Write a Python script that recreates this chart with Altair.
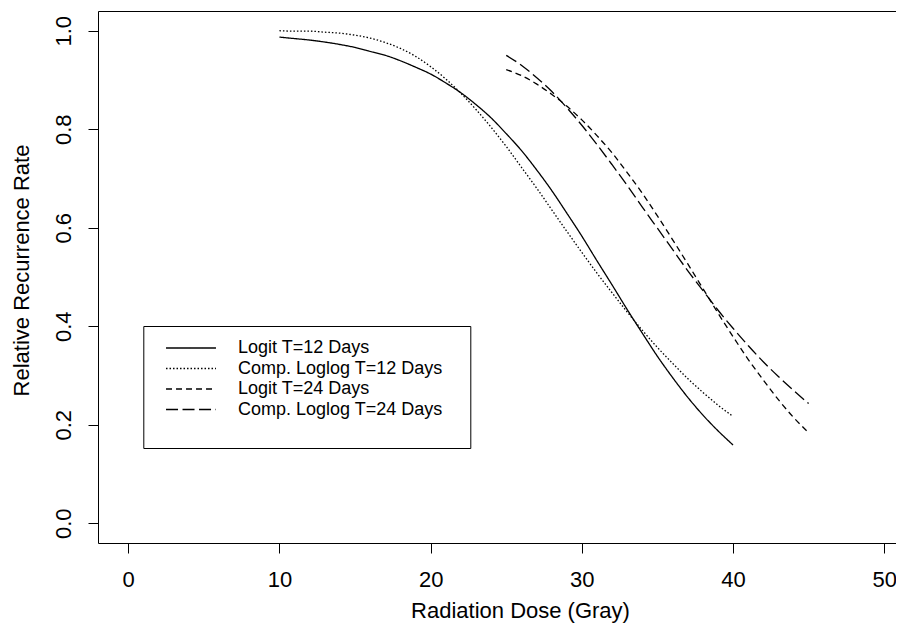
import altair as alt
import pandas as pd

# ---- data ----
series_names = ["Logit T=12 Days", "Comp. Loglog T=12 Days",
                "Logit T=24 Days", "Comp. Loglog T=24 Days"]

dose_t12 = [10, 11, 12, 13, 14, 15, 16, 17, 18, 19, 20, 21, 22, 23, 24, 25,
            26, 27, 28, 29, 30, 31, 32, 33, 34, 35, 36, 37, 38, 39, 40]
logit_t12 = [0.987, 0.984, 0.981, 0.977, 0.972, 0.966, 0.958, 0.950, 0.939,
             0.926, 0.912, 0.894, 0.874, 0.850, 0.823, 0.791, 0.757, 0.718,
             0.676, 0.630, 0.583, 0.533, 0.484, 0.434, 0.386, 0.339, 0.296,
             0.256, 0.220, 0.188, 0.159]
cll_t12 = [1.000, 0.999, 0.999, 0.997, 0.995, 0.991, 0.985, 0.976, 0.964,
           0.948, 0.927, 0.902, 0.873, 0.840, 0.804, 0.765, 0.723, 0.681,
           0.637, 0.593, 0.550, 0.508, 0.468, 0.429, 0.392, 0.357, 0.325,
           0.294, 0.266, 0.240, 0.217]

dose_t24 = [25, 26, 27, 28, 29, 30, 31, 32, 33, 34, 35, 36, 37, 38, 39, 40,
            41, 42, 43, 44, 45]
logit_t24 = [0.921, 0.909, 0.892, 0.871, 0.847, 0.819, 0.787, 0.752, 0.712,
             0.670, 0.624, 0.576, 0.527, 0.477, 0.427, 0.379, 0.333, 0.291,
             0.251, 0.215, 0.184]
cll_t24 = [0.950, 0.930, 0.905, 0.877, 0.844, 0.808, 0.769, 0.728, 0.686,
           0.642, 0.599, 0.556, 0.513, 0.473, 0.433, 0.396, 0.361, 0.328,
           0.298, 0.270, 0.243]

x_ticks = [0, 10, 20, 30, 40, 50]
y_ticks = [0.0, 0.2, 0.4, 0.6, 0.8, 1.0]

rows = []
for name, xs, ys in [(series_names[0], dose_t12, logit_t12),
                     (series_names[1], dose_t12, cll_t12),
                     (series_names[2], dose_t24, logit_t24),
                     (series_names[3], dose_t24, cll_t24)]:
    for xv, yv in zip(xs, ys):
        rows.append({"dose": xv, "rate": yv, "series": name})
df = pd.DataFrame(rows)

FONT = "Liberation Sans"
dash_range = [[1, 0], [1.5, 2], [6, 4], [12, 4.5]]
# invisible (white on white) spacer title that widens the legend box
legend_spacer = "0" * 54

x_scale = alt.Scale(domain=[-2, 50.78], nice=False, zero=False)
y_scale = alt.Scale(domain=[-0.04, 1.04], nice=False, zero=False)

y_enc = alt.Y("rate:Q", scale=y_scale,
              axis=alt.Axis(values=y_ticks, format=".1f", tickSize=10,
                            labelAngle=270, labelAlign="center",
                            labelBaseline="alphabetic", labelPadding=17.3,
                            labelFlush=False, labelOverlap=False,
                            title="Relative Recurrence Rate", titleAngle=270,
                            titleX=-70, titleY=259, titleAlign="center",
                            titleBaseline="alphabetic", grid=False))

lines = alt.Chart(df).mark_line(color="black", strokeWidth=1.3,
                                interpolate="monotone").encode(
    x=alt.X("dose:Q", scale=x_scale,
            axis=alt.Axis(values=x_ticks, tickSize=10, labelPadding=33.7,
                          labelBaseline="alphabetic", labelAlign="center",
                          labelFlush=False, labelOverlap=False,
                          title="Radiation Dose (Gray)", titleX=422,
                          titleY=74.3, titleAlign="center",
                          titleBaseline="alphabetic", grid=False)),
    y=y_enc,
    strokeDash=alt.StrokeDash(
        "series:N",
        scale=alt.Scale(domain=series_names, range=dash_range),
        legend=alt.Legend(
            title=legend_spacer, titleOrient="bottom", titleFontSize=10.08,
            titleFont=FONT, titleColor="white", titleFontWeight="normal",
            titlePadding=6.5, titleLimit=0, titleAlign="left",
            orient="none", legendX=45.3, legendY=315, padding=12,
            fillColor="white", strokeColor="black",
            symbolType="M0.08,0H5.63", symbolSize=324,
            symbolStrokeWidth=1.3, symbolStrokeColor="black",
            labelFont=FONT, labelFontSize=18, labelColor="black",
            labelOffset=62.7, rowPadding=1.5, labelLimit=0)),
    order=alt.Order("dose:Q"),
)

top_line = alt.Chart(df).mark_line(opacity=0).encode(
    x=alt.X("dose:Q", scale=x_scale,
            axis=alt.Axis(orient="top", labels=False, ticks=False,
                          domain=True, title=None, grid=False)),
    y=y_enc,
    detail="series:N",
)

chart = alt.layer(lines, top_line).resolve_axis(x="independent").properties(
    width=798, height=532,
    autosize=alt.AutoSizeParams(type="none"),
    padding={"left": 90, "top": 3, "right": 0, "bottom": 80},
    background="white",
).configure_view(stroke=None).configure_axis(
    domainColor="black", domainWidth=1, tickColor="black", tickWidth=1,
    labelColor="black", titleColor="black", labelFont=FONT, titleFont=FONT,
    labelFontSize=22, titleFontSize=22, titleFontWeight="normal",
)

chart.save("out.html", embed_options={"renderer": "svg", "actions": False})
